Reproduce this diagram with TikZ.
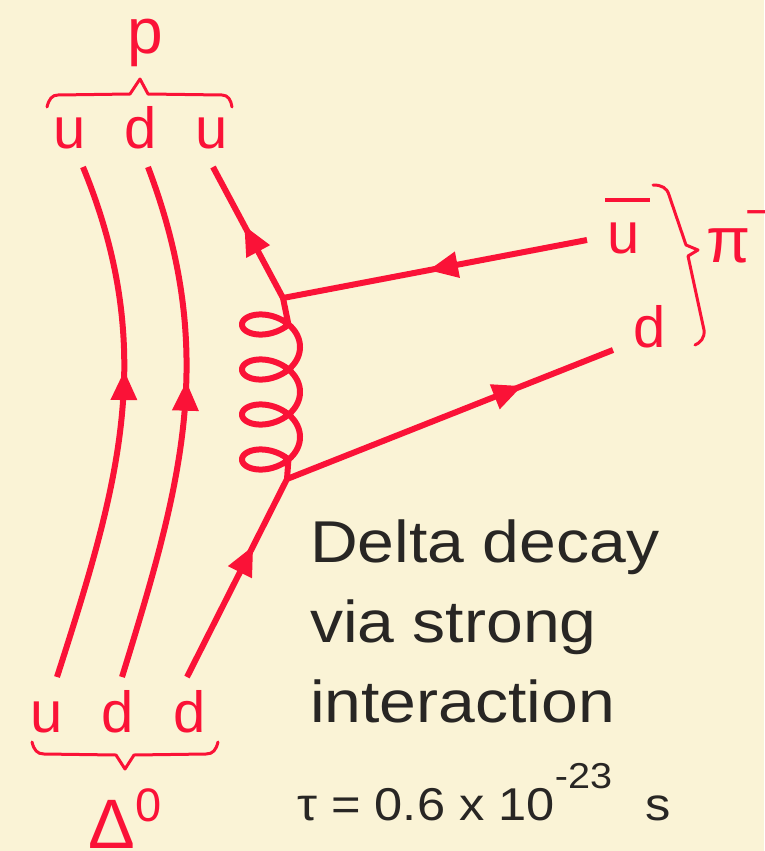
\documentclass[tikz,border=0pt]{standalone}
\usepackage{fontspec}
\setmainfont{Liberation Sans}
\usetikzlibrary{arrows.meta,decorations.markings}
\definecolor{bg}{RGB}{250,243,214}
\definecolor{qred}{RGB}{250,18,55}
\definecolor{txt}{RGB}{40,38,36}
\tikzset{
  quark/.style={color=qred,line width=6pt},
  midarrow/.style={postaction={decorate},decoration={markings,
     mark=at position #1 with {\arrow{Triangle[length=29pt,width=27pt,line width=0pt]}}}},
  gluon/.style={color=qred,line width=6pt,line join=round},
  brace/.style={color=qred,line width=3pt,line join=round,line cap=round},
  lab/.style={text=qred,font=\fontsize{58}{58}\selectfont,inner sep=0pt,anchor=base},
  body/.style={text=txt,font=\fontsize{59}{59}\selectfont,inner sep=0pt,anchor=base west},
  formula/.style={text=txt,font=\fontsize{46}{46}\selectfont,inner sep=0pt,anchor=base west}
}
\begin{document}
\begin{tikzpicture}[x=1pt,y=-1pt]
\useasboundingbox (0,0) rectangle (764,851);
\fill[bg] (0,0) rectangle (764,851);

% vertices and end points
\coordinate (v1) at (283,298);
\coordinate (v2) at (287,479);
\coordinate (a1) at (57,677);
\coordinate (b1) at (83,167);
\coordinate (a2) at (122,677);
\coordinate (b2) at (148,167);
\coordinate (a3) at (187,677);
\coordinate (b3) at (213,167);
\coordinate (pe) at (587,240);
\coordinate (de) at (613,350);

% spectator quarks
\draw[quark,midarrow=0.6] (a1) .. controls (118,487) and (159,352) .. (b1);
\draw[quark,midarrow=0.58] (a2) .. controls (181,486) and (219,354) .. (b2);
% active quark
\draw[quark,midarrow=0.66] (a3) -- (v2);
\draw[quark,midarrow=0.55] (v1) -- (b3);
% pion quarks
\draw[quark,midarrow=0.52] (pe) -- (v1);
\draw[quark,midarrow=0.72] (v2) -- (de);

% gluon
\draw[gluon] (v1) -- (288.45,324.6) -- plot[domain=53:1387,samples=500] ({271+29*cos(\x)},{302+\x/8+20*sin(\x)}) -- (v2);

% top labels
\node[lab,font=\fontsize{64}{64}\selectfont] (p) at (145,53) {p};
\node[lab] (tu1) at (70,148) {u};
\node[lab] (td) at (141,148) {d};
\node[lab] (tu2) at (212,148) {u};
\draw[brace] (47,107) .. controls (49,99) and (52,95) .. (58,95) -- (130,94) -- (140,79) -- (148,94) -- (222,95) .. controls (228,95) and (231,100) .. (232,107);

% bottom labels
\node[lab] (bu) at (47,732) {u};
\node[lab] (bd1) at (118,732) {d};
\node[lab] (bd2) at (190,732) {d};
\draw[brace] (32,742) .. controls (34,750) and (37,754) .. (44,754) -- (116,755) -- (125,769) -- (134,755) -- (206,754) .. controls (213,754) and (216,750) .. (218,742);
\node[lab,anchor=base west,font=\fontsize{70}{70}\selectfont] (delta) at (88,848) {Δ\kern1pt\raisebox{27pt}{\fontsize{47}{47}\selectfont 0}};

% right labels
\node[lab] (ubar) at (624,253) {u};
\draw[brace,line width=4pt,line cap=butt] (605,200) -- (650,200);
\node[lab] (dr) at (650,347) {d};
\draw[brace] (653,185) .. controls (662,185) and (667,188) .. (669,195) -- (686,245) -- (698,250) -- (688,256) -- (704,330) .. controls (705,338) and (700,343) .. (695,345);
\node[lab,anchor=base west,font=\fontsize{64}{64}\selectfont] (pi) at (706,262) {π\kern-5pt\raisebox{35pt}{\fontsize{46}{46}\selectfont −}};

% text
\node[body] (t1) at (310,562) {\scalebox{1.12}[1]{Delta decay}};
\node[body] (t2) at (310,642) {\scalebox{1.12}[1]{via strong}};
\node[body] (t3) at (310,722) {\scalebox{1.12}[1]{interaction}};
\node[formula] (tau) at (297,820) {\scalebox{1.1}[1]{τ = 0.6 x 10\raisebox{32pt}{\fontsize{36}{36}\selectfont -23}\hspace{30pt}s}};
\end{tikzpicture}
\end{document}
